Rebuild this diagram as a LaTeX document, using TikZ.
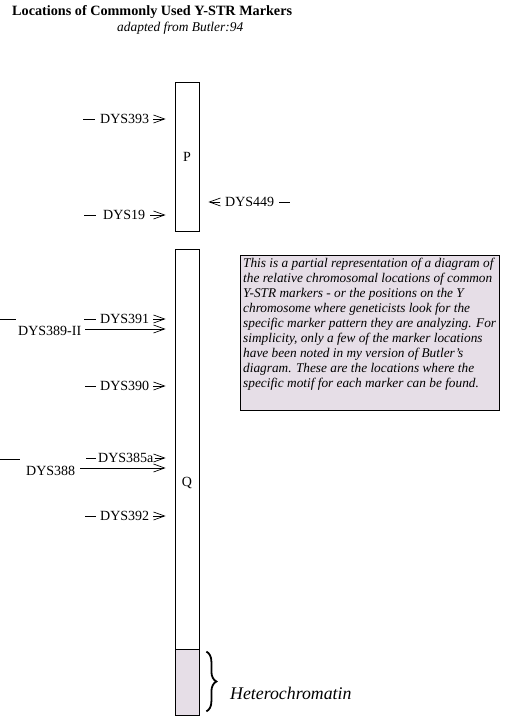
\documentclass[tikz,border=0pt]{standalone}
\usepackage{fontspec}
\setmainfont{Liberation Serif}
\usetikzlibrary{arrows.meta,decorations.pathreplacing}
\definecolor{lav}{HTML}{E6DEE7}
\begin{document}
\begin{tikzpicture}[x=1pt,y=-1pt,
  lbl/.style={inner sep=0pt, font=\fontsize{14}{16}\selectfont, anchor=west},
  arr/.style={-{Straight Barb[length=11pt,width=8pt]}, line width=0.7pt, shorten >=9pt},
  rarr/.style={-{Straight Barb[length=11pt,width=8pt]}, line width=0.7pt},
  tick/.style={line width=0.7pt},
  chrom/.style={draw, line width=0.8pt, minimum width=24pt, inner sep=0pt},
  note/.style={draw, line width=0.8pt, fill=lav, minimum width=259pt, minimum height=155pt, anchor=north west}]
\useasboundingbox (0,0) rectangle (516,716);
% title
\node[anchor=west, inner sep=0pt, font=\bfseries\fontsize{14.2}{17}\selectfont] (title) at (12,12) {Locations of Commonly Used Y-STR Markers};
\node[anchor=west, inner sep=0pt, font=\itshape\fontsize{13.4}{15}\selectfont] (sub) at (117,28) {adapted from Butler:94};
% chromosome arms
\node[chrom, minimum height=149pt] (P) at (187,156.5) {};
\node[font=\fontsize{14}{16}\selectfont] (Plbl) at (187,157) {P};
\node[chrom, minimum height=466pt] (Q) at (187,482) {};
\node[chrom, fill=lav, minimum height=66pt, anchor=south] (H) at (Q.south) {};
\node[chrom, minimum height=466pt] (Q2) at (187,482) {};
\node[font=\fontsize{14}{16}\selectfont] (Qlbl) at (187,483) {Q};
% p markers
\node[lbl] (d393) at (100,119) {DYS393};
\draw[tick] ([xshift=-17pt]d393.west) -- ([xshift=-5pt]d393.west);
\draw[arr] ([xshift=4pt]d393.east) -- (d393.east -| P.west);
\node[lbl] (d19) at (103,215) {DYS19};
\draw[tick] ([xshift=-19pt]d19.west) -- ([xshift=-7pt]d19.west);
\draw[arr] ([xshift=5pt]d19.east) -- (d19.east -| P.west);
\node[lbl] (d449) at (225,202) {DYS449};
\draw[tick] ([xshift=5pt]d449.east) -- ([xshift=16pt]d449.east);
\coordinate (c449) at ([xshift=-5pt]d449.west);
\draw[rarr] (c449) -- ([xshift=9pt]P.east |- c449);
% q markers
\node[lbl] (d391) at (100,319) {DYS391};
\draw[tick] ([xshift=-16pt]d391.west) -- ([xshift=-4pt]d391.west);
\draw[arr] ([xshift=4pt]d391.east) -- (d391.east -| Q.west);
\node[lbl] (d389) at (18,331) {DYS389-II};
\draw[tick] ([xshift=-18pt,yshift=7pt]d389.north west) -- ([xshift=-2pt,yshift=7pt]d389.north west);
\coordinate (c389) at ([xshift=4pt,yshift=2pt]d389.east);
\draw[arr] (c389) -- (c389 -| Q.west);
\node[lbl] (d390) at (100,386) {DYS390};
\draw[tick] ([xshift=-15pt]d390.west) -- ([xshift=-4pt]d390.west);
\draw[arr] ([xshift=4pt]d390.east) -- (d390.east -| Q.west);
\node[lbl] (d385) at (98,458) {DYS385a};
\draw[tick] ([xshift=-12pt]d385.west) -- ([xshift=-2pt]d385.west);
\draw[arr] ([xshift=1pt]d385.east) -- (d385.east -| Q.west);
\node[lbl] (d388) at (26,471) {DYS388};
\draw[tick] ([xshift=-26pt,yshift=7pt]d388.north west) -- ([xshift=-6pt,yshift=7pt]d388.north west);
\coordinate (c388) at ([xshift=5pt,yshift=3pt]d388.east);
\draw[arr] (c388) -- (c388 -| Q.west);
\node[lbl] (d392) at (100,516) {DYS392};
\draw[tick] ([xshift=-15pt]d392.west) -- ([xshift=-4pt]d392.west);
\draw[arr] ([xshift=4pt]d392.east) -- (d392.east -| Q.west);
% note
\node[note] (nb) at (240,255) {};
\node[anchor=north west, inner sep=0pt, align=left, font=\itshape\fontsize{13.3}{15}\selectfont] (nt) at ([shift={(3,3)}]nb.north west) {This is a partial representation of a diagram of\\the relative chromosomal locations of common\\Y-STR markers - or the positions on the Y\\chromosome where geneticists look for the\\specific marker pattern they are analyzing. For\\simplicity, only a few of the marker locations\\have been noted in my version of Butler's\\diagram. These are the locations where the\\specific motif for each marker can be found.};
% heterochromatin
\draw[decorate, decoration={brace, amplitude=10pt}, line width=1.8pt] ([xshift=7pt,yshift=-3pt]H.north east) -- ([xshift=7pt,yshift=4pt]H.south east);
\node[anchor=west, inner sep=0pt, font=\itshape\fontsize{17.8}{20}\selectfont] (het) at (230,693) {Heterochromatin};
\end{tikzpicture}
\end{document}
